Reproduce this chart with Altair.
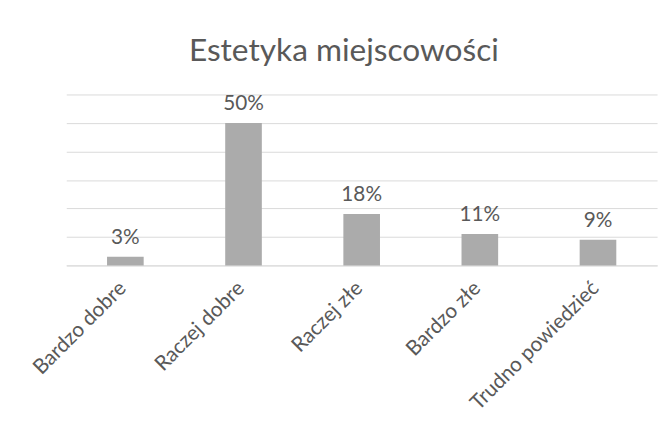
import altair as alt
import pandas as pd

categories = ["Bardzo dobre", "Raczej dobre", "Raczej złe", "Bardzo złe", "Trudno powiedzieć"]
values = [0.03, 0.50, 0.18, 0.11, 0.09]
labels = ["3%", "50%", "18%", "11%", "9%"]
grid_values = [0, 0.1, 0.2, 0.3, 0.4, 0.5, 0.6]

df = pd.DataFrame({"cat": categories, "val": values, "lab": labels})

FONT = "Lato"
TXT = "#595959"

x = alt.X(
    "cat:N",
    sort=categories,
    scale=alt.Scale(paddingInner=0.69, paddingOuter=0.345),
    axis=alt.Axis(
        title=None,
        labelAngle=-45,
        labelAlign="right",
        labelBaseline="top",
        labelFont=FONT,
        labelFontSize=21,
        labelColor=TXT,
        labelPadding=12,
        labelOffset=-10,
        ticks=False,
        domain=True,
        domainColor="#d9d9d9",
        grid=False,
        labelOverlap=False,
    ),
)
y = alt.Y(
    "val:Q",
    scale=alt.Scale(domain=[0, 0.6], nice=False),
    axis=alt.Axis(
        title=None,
        labels=False,
        ticks=False,
        domain=False,
        grid=True,
        values=grid_values,
        tickCount=7,
        gridColor="#d9d9d9",
        gridWidth=1,
    ),
)

base = alt.Chart(df).encode(x=x, y=y)
bars = base.mark_bar(color="#ababab")
text = base.mark_text(
    font=FONT, fontSize=21, color=TXT, baseline="alphabetic", dy=-13
).encode(text="lab:N")

chart = (
    alt.layer(bars, text)
    .properties(
        width=598,
        height=173,
        autosize="none",
        padding={"left": 59, "top": 85, "right": 5, "bottom": 155},
        view=alt.ViewBackground(strokeWidth=0, stroke="transparent"),
        title=alt.TitleParams(
            "Estetyka miejscowości",
            font=FONT,
            fontSize=32,
            fontWeight="normal",
            color=TXT,
            anchor="middle",
            dx=-18,
            baseline="alphabetic",
            offset=1,
        ),
    )
    .configure_view(strokeWidth=0, stroke="transparent")
    .configure(background="white")
)

chart.save("out.html", embed_options={"renderer": "svg", "actions": False})
